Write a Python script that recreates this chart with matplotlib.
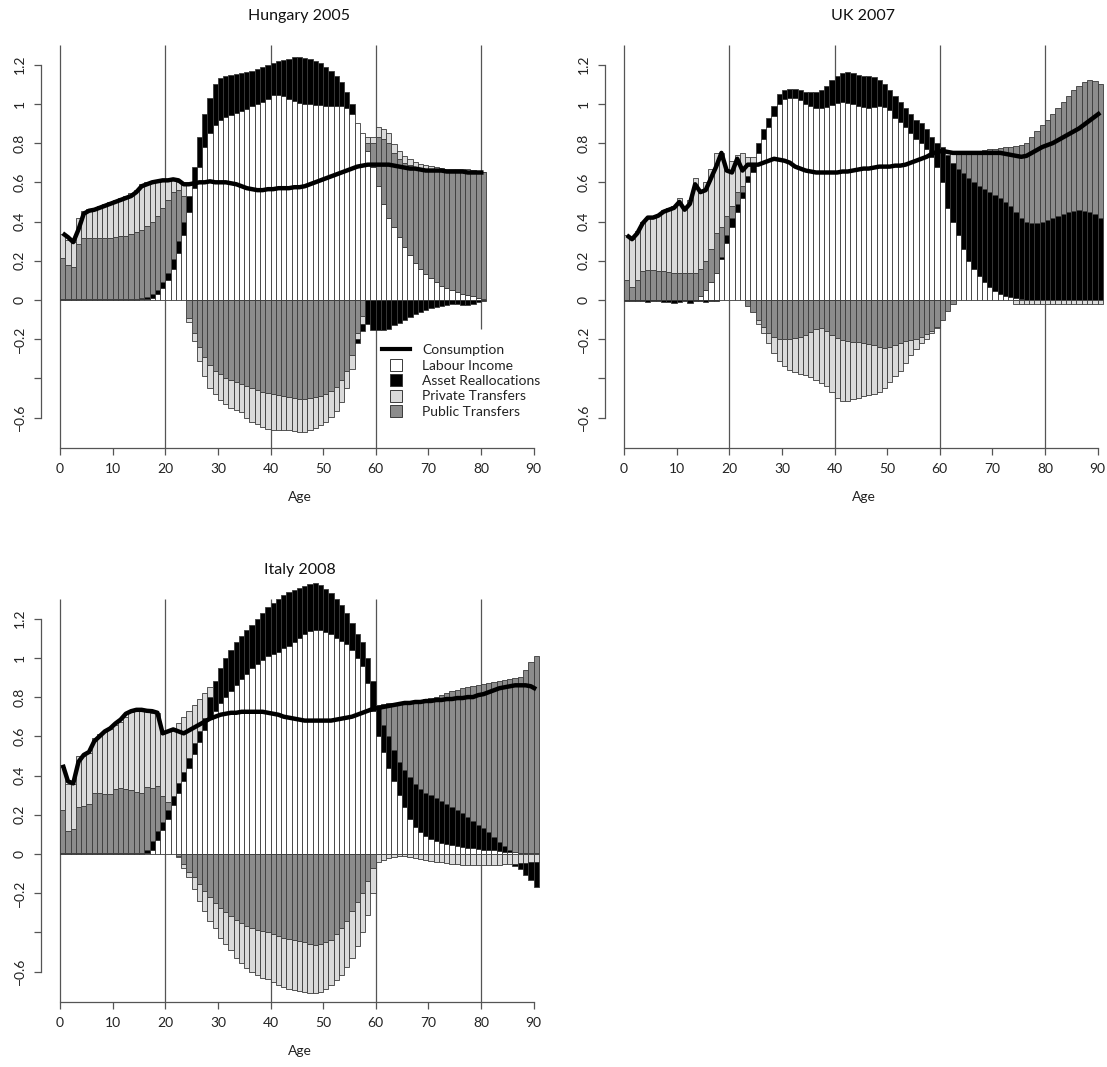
import numpy as np
import matplotlib
matplotlib.use("Agg")
import matplotlib.pyplot as plt
from matplotlib.lines import Line2D

plt.rcParams["font.family"] = ["Lato", "DejaVu Sans"]

WHITE, BLACK, LIGHT, DARK = "white", "black", "#dadada", "#8c8c8c"
EDGE = "#3a3a3a"

# ---------------- Hungary 2005 (ages 0-80) ----------------
hu_ages = np.arange(81)
hu_labour = [0, 0, 0, 0, 0, 0, 0, 0, 0, 0,
             0, 0, 0, 0, 0, 0.003, 0.005, 0.01, 0.03, 0.06,
             0.10, 0.16, 0.24, 0.33, 0.45, 0.57, 0.68, 0.78, 0.85, 0.89,
             0.92, 0.935, 0.945, 0.955, 0.965, 0.975, 0.99, 1.00, 1.01, 1.025,
             1.045, 1.045, 1.04, 1.025, 1.015, 1.005, 1.0, 1.0, 0.995, 0.995,
             0.99, 0.99, 0.99, 0.99, 0.98, 0.95, 0.90, 0.85, 0.76, 0.68,
             0.58, 0.49, 0.42, 0.37, 0.32, 0.27, 0.23, 0.19, 0.16, 0.13,
             0.11, 0.09, 0.07, 0.06, 0.05, 0.04, 0.03, 0.025, 0.02, 0.01,
             0.005]
hu_assets = [0.006, 0.006, 0.006, 0.006, 0.006, 0.006, 0.006, 0.006, 0.006, 0.006,
             0.006, 0.006, 0.006, 0.006, 0.006, 0.006, 0.01, 0.02, 0.02, 0.03,
             0.04, 0.05, 0.06, 0.07, 0.08, 0.11, 0.15, 0.17, 0.18, 0.21,
             0.21, 0.205, 0.20, 0.195, 0.19, 0.185, 0.18, 0.18, 0.18, 0.175,
             0.165, 0.175, 0.185, 0.205, 0.225, 0.235, 0.235, 0.23, 0.225, 0.215,
             0.20, 0.18, 0.15, 0.12, 0.08, 0.05, -0.02, -0.04, -0.12, -0.155,
             -0.155, -0.155, -0.15, -0.13, -0.115, -0.10, -0.085, -0.07, -0.06, -0.05,
             -0.04, -0.035, -0.03, -0.025, -0.02, -0.02, -0.025, -0.025, -0.02, -0.01,
             -0.005]
hu_public = [0.21, 0.17, 0.16, 0.28, 0.31, 0.31, 0.31, 0.31, 0.31, 0.31,
             0.315, 0.32, 0.32, 0.33, 0.34, 0.35, 0.36, 0.37, 0.38, 0.38,
             0.37, 0.34, 0.26, 0.13, -0.09, -0.17, -0.24, -0.29, -0.33, -0.36,
             -0.38, -0.40, -0.41, -0.42, -0.43, -0.44, -0.45, -0.46, -0.47, -0.475,
             -0.48, -0.485, -0.49, -0.495, -0.50, -0.505, -0.505, -0.50, -0.495, -0.49,
             -0.48, -0.465, -0.445, -0.41, -0.36, -0.28, -0.17, -0.08, 0.04, 0.12,
             0.25, 0.33, 0.38, 0.38, 0.40, 0.43, 0.46, 0.49, 0.515, 0.54,
             0.555, 0.57, 0.59, 0.595, 0.605, 0.615, 0.625, 0.63, 0.635, 0.645,
             0.645]
hu_private = [0.12, 0.13, 0.13, 0.13, 0.14, 0.15, 0.155, 0.165, 0.175, 0.185,
              0.19, 0.195, 0.205, 0.21, 0.215, 0.23, 0.225, 0.205, 0.18, 0.14,
              0.10, 0.06, 0.04, 0.06, -0.02, -0.04, -0.07, -0.10, -0.12, -0.12,
              -0.13, -0.13, -0.14, -0.14, -0.14, -0.16, -0.17, -0.17, -0.18, -0.185,
              -0.185, -0.18, -0.175, -0.17, -0.17, -0.17, -0.17, -0.165, -0.16, -0.15,
              -0.14, -0.13, -0.12, -0.11, -0.09, -0.07, -0.03, -0.04, 0.03, 0.03,
              0.05, 0.05, 0.05, 0.045, 0.04, 0.035, 0.03, 0.025, 0.02, 0.02,
              0.02, 0.02, 0.015, 0.015, 0.015, 0.015, 0.015, 0.015, 0.01, 0.005,
              0.005]
hu_cons = [0.34, 0.32, 0.295, 0.36, 0.44, 0.455, 0.46, 0.47, 0.48, 0.49,
           0.50, 0.51, 0.52, 0.53, 0.55, 0.58, 0.59, 0.60, 0.605, 0.61,
           0.61, 0.615, 0.61, 0.59, 0.59, 0.595, 0.60, 0.60, 0.605, 0.60,
           0.60, 0.60, 0.595, 0.59, 0.58, 0.57, 0.565, 0.56, 0.56, 0.565,
           0.565, 0.57, 0.57, 0.57, 0.575, 0.575, 0.58, 0.59, 0.60, 0.61,
           0.62, 0.63, 0.64, 0.65, 0.66, 0.67, 0.68, 0.685, 0.69, 0.69,
           0.69, 0.69, 0.69, 0.685, 0.68, 0.675, 0.67, 0.67, 0.665, 0.66,
           0.66, 0.66, 0.66, 0.655, 0.655, 0.655, 0.655, 0.65, 0.65, 0.65,
           0.65]

# ---------------- UK 2007 (ages 0-90) ----------------
uk_ages = np.arange(91)
uk_labour = [0, 0, 0, 0, 0, 0, 0, 0, 0, 0,
             0, 0, 0, 0, 0.02, 0.05, 0.09, 0.14, 0.21, 0.29,
             0.37, 0.45, 0.52, 0.60, 0.655, 0.75, 0.82, 0.88, 0.94, 1.00,
             1.025, 1.03, 1.03, 1.02, 1.00, 0.99, 0.98, 0.98, 0.985, 0.995,
             1.005, 1.01, 1.005, 1.0, 0.99, 0.985, 0.98, 0.985, 0.99, 0.985,
             0.97, 0.93, 0.91, 0.88, 0.85, 0.82, 0.80, 0.77, 0.73, 0.68,
             0.60, 0.47, 0.40, 0.33, 0.26, 0.20, 0.16, 0.12, 0.09, 0.065,
             0.045, 0.03, 0.02, 0.015, 0.01, 0.005, 0, 0, 0, 0,
             0, 0, 0, 0, 0, 0, 0, 0, 0, 0,
             0]
uk_assets = [-0.005, -0.005, -0.005, -0.005, -0.008, -0.005, -0.005, -0.008, -0.008, -0.015,
             -0.008, -0.005, -0.015, -0.005, -0.005, -0.01, -0.005, -0.005, 0.01, 0.04,
             0.05, 0.04, 0.03, 0.03, 0.035, 0.05, 0.05, 0.05, 0.05, 0.05,
             0.045, 0.045, 0.045, 0.05, 0.06, 0.07, 0.08, 0.09, 0.105, 0.125,
             0.135, 0.145, 0.155, 0.155, 0.155, 0.155, 0.16, 0.15, 0.13, 0.115,
             0.10, 0.11, 0.10, 0.10, 0.10, 0.10, 0.10, 0.10, 0.10, 0.12,
             0.18, 0.27, 0.30, 0.34, 0.385, 0.42, 0.44, 0.46, 0.475, 0.485,
             0.49, 0.49, 0.48, 0.465, 0.44, 0.415, 0.40, 0.39, 0.395, 0.40,
             0.41, 0.42, 0.43, 0.44, 0.45, 0.455, 0.46, 0.455, 0.45, 0.44,
             0.42]
uk_public = [0.10, 0.065, 0.10, 0.15, 0.155, 0.155, 0.15, 0.15, 0.145, 0.14,
             0.135, 0.135, 0.135, 0.14, 0.14, 0.15, 0.17, 0.20, 0.15, 0.10,
             0.06, 0.06, 0.03, -0.03, -0.06, -0.10, -0.14, -0.17, -0.19, -0.20,
             -0.20, -0.20, -0.195, -0.19, -0.18, -0.165, -0.15, -0.145, -0.16, -0.18,
             -0.195, -0.205, -0.21, -0.215, -0.215, -0.22, -0.225, -0.23, -0.24, -0.245,
             -0.24, -0.23, -0.22, -0.21, -0.205, -0.20, -0.19, -0.175, -0.16, -0.14,
             -0.10, -0.055, -0.02, 0.085, 0.11, 0.135, 0.16, 0.18, 0.20, 0.22,
             0.235, 0.255, 0.28, 0.30, 0.335, 0.37, 0.40, 0.44, 0.465, 0.49,
             0.51, 0.53, 0.55, 0.57, 0.59, 0.615, 0.63, 0.655, 0.67, 0.675,
             0.68]
uk_private = [0.23, 0.245, 0.25, 0.25, 0.265, 0.265, 0.29, 0.31, 0.325, 0.34,
              0.385, 0.345, 0.375, 0.48, 0.40, 0.40, 0.41, 0.41, 0.38, 0.24,
              0.23, 0.19, 0.17, 0.10, 0.04, -0.02, -0.03, -0.05, -0.08, -0.11,
              -0.135, -0.155, -0.17, -0.185, -0.205, -0.23, -0.26, -0.28, -0.28, -0.29,
              -0.305, -0.31, -0.305, -0.29, -0.285, -0.27, -0.26, -0.25, -0.23, -0.205,
              -0.18, -0.16, -0.14, -0.11, -0.075, -0.05, -0.03, -0.025, -0.01, -0.005,
              0, 0.02, 0.06, 0, 0, 0, 0, 0, 0, 0,
              0, 0, 0, 0, -0.02, -0.02, -0.02, -0.02, -0.02, -0.02,
              -0.02, -0.02, -0.02, -0.02, -0.02, -0.02, -0.02, -0.02, -0.02, -0.02,
              -0.02]
uk_cons = [0.33, 0.31, 0.34, 0.39, 0.42, 0.42, 0.43, 0.45, 0.46, 0.47,
           0.50, 0.46, 0.49, 0.59, 0.55, 0.56, 0.62, 0.68, 0.75, 0.66,
           0.65, 0.72, 0.66, 0.69, 0.69, 0.69, 0.70, 0.71, 0.72, 0.715,
           0.71, 0.70, 0.68, 0.67, 0.66, 0.655, 0.65, 0.65, 0.65, 0.65,
           0.65, 0.655, 0.655, 0.66, 0.665, 0.67, 0.67, 0.675, 0.68, 0.68,
           0.68, 0.685, 0.685, 0.69, 0.70, 0.71, 0.72, 0.73, 0.745, 0.755,
           0.76, 0.755, 0.75, 0.75, 0.75, 0.75, 0.75, 0.75, 0.75, 0.75,
           0.75, 0.75, 0.745, 0.74, 0.735, 0.73, 0.735, 0.75, 0.765, 0.78,
           0.79, 0.80, 0.815, 0.83, 0.845, 0.86, 0.875, 0.895, 0.915, 0.935,
           0.955]

# ---------------- Italy 2008 (ages 0-90) ----------------
it_ages = np.arange(91)
it_labour = [0, 0, 0, 0, 0, 0, 0, 0, 0, 0,
             0, 0, 0, 0, 0, 0, 0.005, 0.02, 0.07, 0.12,
             0.18, 0.25, 0.31, 0.37, 0.44, 0.51, 0.57, 0.63, 0.69, 0.73,
             0.77, 0.80, 0.83, 0.86, 0.89, 0.92, 0.95, 0.97, 0.99, 1.01,
             1.02, 1.03, 1.05, 1.06, 1.08, 1.10, 1.12, 1.135, 1.14, 1.14,
             1.13, 1.12, 1.10, 1.085, 1.07, 1.04, 1.0, 0.96, 0.87, 0.73,
             0.60, 0.52, 0.44, 0.37, 0.30, 0.24, 0.18, 0.14, 0.11, 0.09,
             0.075, 0.065, 0.055, 0.05, 0.045, 0.04, 0.035, 0.03, 0.028, 0.025,
             0.022, 0.02, 0.018, 0.015, 0.012, 0.01, 0.008, 0.006, 0.005, 0.004,
             0.003]
it_assets = [0.005, 0.005, 0.005, 0.005, 0.005, 0.005, 0.005, 0.005, 0.005, 0.005,
             0.005, 0.005, 0.005, 0.005, 0.005, 0.005, 0.015, 0.045, 0.045, 0.045,
             0.045, 0.045, 0.05, 0.05, 0.05, 0.055, 0.055, 0.065, 0.11, 0.15,
             0.18, 0.20, 0.21, 0.22, 0.22, 0.22, 0.22, 0.23, 0.24, 0.25,
             0.26, 0.27, 0.27, 0.275, 0.265, 0.255, 0.245, 0.24, 0.24, 0.23,
             0.22, 0.21, 0.20, 0.185, 0.16, 0.14, 0.12, 0.12, 0.13, 0.15,
             0.15, 0.14, 0.16, 0.16, 0.17, 0.19, 0.21, 0.215, 0.22, 0.22,
             0.225, 0.22, 0.215, 0.205, 0.195, 0.185, 0.175, 0.16, 0.142, 0.125,
             0.108, 0.09, 0.067, 0.045, 0.028, 0.01, -0.01, -0.03, -0.06, -0.09,
             -0.13]
it_public = [0.22, 0.11, 0.12, 0.235, 0.24, 0.25, 0.305, 0.305, 0.30, 0.30,
             0.325, 0.33, 0.325, 0.32, 0.31, 0.305, 0.32, 0.27, 0.23, 0.13,
             0.04, 0.0, -0.01, -0.05, -0.09, -0.12, -0.155, -0.19, -0.22, -0.25,
             -0.275, -0.295, -0.315, -0.335, -0.35, -0.365, -0.38, -0.39, -0.395, -0.40,
             -0.41, -0.42, -0.43, -0.435, -0.44, -0.445, -0.45, -0.46, -0.465, -0.46,
             -0.45, -0.44, -0.41, -0.38, -0.34, -0.29, -0.245, -0.20, -0.14, -0.07,
             0.01, 0.105, 0.17, 0.24, 0.30, 0.345, 0.385, 0.425, 0.455, 0.48,
             0.495, 0.515, 0.54, 0.565, 0.59, 0.613, 0.635, 0.66, 0.685, 0.71,
             0.735, 0.76, 0.79, 0.82, 0.845, 0.87, 0.887, 0.894, 0.935, 0.976,
             1.007]
it_private_in = [0.22, 0.24, 0.23, 0.26, 0.255, 0.26, 0.28, 0.30, 0.32, 0.33,
                 0.33, 0.34, 0.37, 0.40, 0.42, 0.425, 0.395, 0.385, 0.375, 0.33,
                 0.36, 0.34, 0.31, 0.28, 0.24, 0.195, 0.165, 0.125, 0.05, 0,
                 0, 0, 0, 0, 0, 0, 0, 0, 0, 0,
                 0, 0, 0, 0, 0, 0, 0, 0, 0, 0,
                 0, 0, 0, 0, 0, 0, 0, 0, 0, 0,
                 0, 0, 0, 0, 0, 0, 0, 0, 0, 0,
                 0, 0, 0, 0, 0, 0, 0, 0, 0, 0,
                 0, 0, 0, 0, 0, 0, 0, 0, 0, 0,
                 0]
it_private_out = [0, 0, 0, 0, 0, 0, 0, 0, 0, 0,
                  0, 0, 0, 0, 0, 0, 0, 0, 0, 0,
                  0, 0, -0.005, -0.02, -0.03, -0.06, -0.085, -0.10, -0.12, -0.13,
                  -0.155, -0.165, -0.175, -0.195, -0.205, -0.215, -0.22, -0.225, -0.235, -0.24,
                  -0.245, -0.25, -0.25, -0.255, -0.255, -0.255, -0.255, -0.25, -0.245, -0.245,
                  -0.24, -0.23, -0.235, -0.235, -0.235, -0.24, -0.225, -0.20, -0.17, -0.13,
                  -0.04, -0.03, -0.02, -0.015, -0.012, -0.012, -0.015, -0.02, -0.025, -0.03,
                  -0.035, -0.04, -0.043, -0.046, -0.049, -0.052, -0.054, -0.055, -0.056, -0.056,
                  -0.056, -0.055, -0.055, -0.054, -0.053, -0.051, -0.05, -0.048, -0.045, -0.042,
                  -0.04]
it_cons = [0.455, 0.37, 0.36, 0.47, 0.505, 0.52, 0.575, 0.60, 0.625, 0.64,
           0.665, 0.685, 0.715, 0.728, 0.735, 0.735, 0.73, 0.728, 0.72, 0.615,
           0.625, 0.635, 0.625, 0.615, 0.63, 0.645, 0.66, 0.675, 0.69, 0.70,
           0.71, 0.715, 0.72, 0.72, 0.725, 0.725, 0.725, 0.725, 0.725, 0.72,
           0.715, 0.71, 0.70, 0.695, 0.69, 0.685, 0.68, 0.68, 0.68, 0.68,
           0.68, 0.68, 0.685, 0.69, 0.695, 0.70, 0.71, 0.72, 0.73, 0.74,
           0.745, 0.75, 0.755, 0.76, 0.765, 0.77, 0.77, 0.775, 0.775, 0.78,
           0.78, 0.785, 0.785, 0.79, 0.79, 0.795, 0.795, 0.80, 0.80, 0.81,
           0.815, 0.825, 0.835, 0.845, 0.85, 0.855, 0.86, 0.86, 0.86, 0.855,
           0.84]

y_ticks = [-0.6, -0.4, -0.2, 0, 0.2, 0.4, 0.6, 0.8, 1.0, 1.2]
y_labels = ["\u22120.6", "", "\u22120.2", "0", "0.2", "0.4", "0.6", "0.8", "1", "1.2"]
grid_ages = [0, 20, 40, 60, 80]


def draw_panel(ax, ages, labour, assets, public, priv_in, priv_out, cons, title, grid_bottom):
    labour, assets, public = (np.asarray(a, float) for a in (labour, assets, public))
    priv_in, priv_out = np.asarray(priv_in, float), np.asarray(priv_out, float)
    pos = [(labour, WHITE), (np.clip(assets, 0, None), BLACK),
           (np.clip(public, 0, None), DARK), (priv_in, LIGHT)]
    neg = [(np.clip(public, None, 0), DARK), (priv_out, LIGHT),
           (np.clip(assets, None, 0), BLACK)]
    for layers in (pos, neg):
        base = np.zeros(len(ages))
        for vals, col in layers:
            m = vals != 0
            ax.bar(ages[m], vals[m], width=1, bottom=base[m], align="edge",
                   color=col, edgecolor=EDGE, linewidth=0.6, clip_on=False, zorder=2)
            base = base + vals
    ax.plot(ages + 0.5, cons, color="black", lw=3.2, zorder=4, clip_on=False,
            solid_capstyle="butt", solid_joinstyle="round")
    for g, b in zip(grid_ages, grid_bottom):
        ax.vlines(g, b, 1.30, color="#555555", lw=0.9, zorder=1)

    ax.set_xlim(-3.64, 94.64)
    ax.set_ylim(-0.755, 1.30)
    for s in ("top", "right"):
        ax.spines[s].set_visible(False)
    for s in ("left", "bottom"):
        ax.spines[s].set_color("#555555")
        ax.spines[s].set_linewidth(0.9)
    ax.spines["left"].set_bounds(-0.6, 1.2)
    ax.spines["bottom"].set_bounds(0, 90)
    ax.set_xticks(range(0, 91, 10))
    ax.set_yticks(y_ticks)
    ax.set_yticklabels(y_labels, rotation=90, va="center")
    ax.tick_params(axis="both", length=5, width=0.9, color="#555555",
                   labelsize=10, labelcolor="#222222")
    ax.tick_params(axis="x", pad=6)
    ax.tick_params(axis="y", pad=6)
    ax.set_xlabel("Age", fontsize=10, color="#222222", labelpad=11)
    ax.set_title(title, fontsize=11.5, color="#111111", pad=18)


fig = plt.figure(figsize=(11.07, 10.67), dpi=100)
ax_hu = fig.add_axes([0.037, 0.5801, 0.467, 0.3777])
ax_uk = fig.add_axes([0.5465, 0.5801, 0.467, 0.3777])
ax_it = fig.add_axes([0.037, 0.0609, 0.467, 0.3777])

full = [-0.755] * 5
draw_panel(ax_hu, hu_ages, hu_labour, hu_assets, hu_public,
           np.clip(hu_private, 0, None), np.clip(hu_private, None, 0), hu_cons,
           "Hungary 2005", [-0.755, -0.755, -0.755, -0.755, -0.15])
draw_panel(ax_uk, uk_ages, uk_labour, uk_assets, uk_public,
           np.clip(uk_private, 0, None), np.clip(uk_private, None, 0), uk_cons,
           "UK 2007", full)
draw_panel(ax_it, it_ages, it_labour, it_assets, it_public,
           it_private_in, it_private_out, it_cons, "Italy 2008", full)

handles = [
    Line2D([], [], color="black", lw=3),
    Line2D([], [], ls="none", marker="s", ms=8, mfc=WHITE, mec=EDGE, mew=0.7),
    Line2D([], [], ls="none", marker="s", ms=8, mfc=BLACK, mec=EDGE, mew=0.7),
    Line2D([], [], ls="none", marker="s", ms=8, mfc=LIGHT, mec=EDGE, mew=0.7),
    Line2D([], [], ls="none", marker="s", ms=8, mfc=DARK, mec=EDGE, mew=0.7),
]
labels = ["Consumption", "Labour Income", "Asset Reallocations",
          "Private Transfers", "Public Transfers"]
ax_hu.legend(handles, labels, loc="upper left", bbox_to_anchor=(0.66, 0.258),
             frameon=False, fontsize=10, handlelength=2.0, handletextpad=0.9,
             labelspacing=0.25, borderpad=0, borderaxespad=0, labelcolor="#222222")

fig.savefig("out.png", dpi=100)
